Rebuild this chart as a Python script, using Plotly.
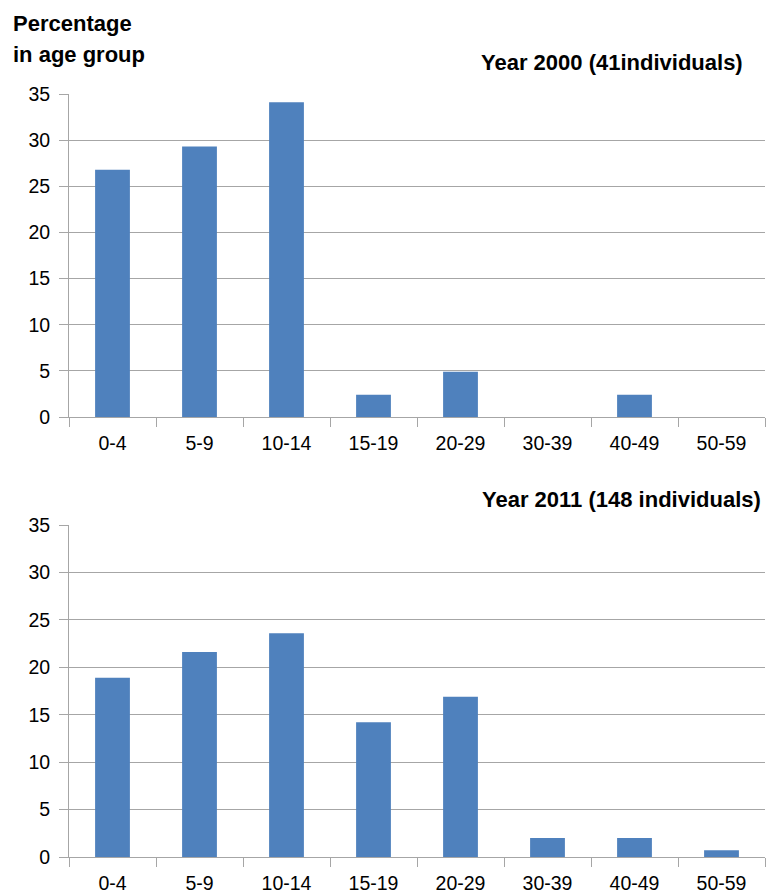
import plotly.graph_objects as go
from plotly.subplots import make_subplots

categories = ["0-4", "5-9", "10-14", "15-19", "20-29", "30-39", "40-49", "50-59"]
pct_2000 = [26.8, 29.3, 34.1, 2.4, 4.9, 0, 2.4, 0]
pct_2011 = [18.9, 21.6, 23.6, 14.2, 16.9, 2.0, 2.0, 0.7]
y_ticks = [0, 5, 10, 15, 20, 25, 30, 35]

BAR = "#4F81BD"
GRID = "#a6a6a6"
FONT = "Liberation Sans, Arial, sans-serif"

W, H = 766.0, 895.0
L, R = 69, 1
PW = W - L - R

fig = make_subplots(rows=2, cols=1)
fig.add_trace(go.Bar(x=categories, y=pct_2000, marker=dict(color=BAR, line=dict(width=0)),
                     width=0.4, showlegend=False, hoverinfo="skip"), row=1, col=1)
fig.add_trace(go.Bar(x=categories, y=pct_2011, marker=dict(color=BAR, line=dict(width=0)),
                     width=0.4, showlegend=False, hoverinfo="skip"), row=2, col=1)


def dom(top_px, bot_px):
    return [(H - bot_px) / H, (H - top_px) / H]


ax_common = dict(showline=True, linecolor=GRID, linewidth=1, ticks="outside", tickcolor=GRID,
                 ticklen=9, tickson="boundaries", showgrid=False, automargin=False,
                 tickfont=dict(family=FONT, size=19.5, color="#000"),
                 ticklabelstandoff=9)
ay_common = dict(range=[0, 35], tickvals=y_ticks, showline=True, linecolor=GRID, linewidth=1,
                 ticks="outside", tickcolor=GRID, ticklen=9, showgrid=True, gridcolor=GRID,
                 gridwidth=1, zeroline=False, automargin=False,
                 tickfont=dict(family=FONT, size=19.5, color="#000"),
                 ticklabelstandoff=5)

fig.update_layout(
    width=W, height=H,
    margin=dict(l=L, r=R, t=0, b=0, pad=0),
    plot_bgcolor="white", paper_bgcolor="white",
    xaxis=dict(domain=[0, 1], **ax_common),
    xaxis2=dict(domain=[0, 1], **ax_common),
    yaxis=dict(domain=dom(94, 417), **ay_common),
    yaxis2=dict(domain=dom(525, 857), **ay_common),
    font=dict(family=FONT),
    bargap=0.6,
)


def px_x(x):
    return (x - L) / PW


def px_y(y):
    return (H - y) / H


TF = dict(family=FONT, size=22, color="#000")
fig.add_annotation(text="<b>Percentage</b>", xref="paper", yref="paper", x=px_x(11), y=px_y(24),
                   xanchor="left", yanchor="middle", showarrow=False, font=TF)
fig.add_annotation(text="<b>in age group</b>", xref="paper", yref="paper", x=px_x(11), y=px_y(55),
                   xanchor="left", yanchor="middle", showarrow=False, font=TF)
fig.add_annotation(text="<b>Year 2000 (41individuals)</b>", xref="paper", yref="paper",
                   x=px_x(745), y=px_y(62), xanchor="right", yanchor="middle",
                   showarrow=False, font=TF)
fig.add_annotation(text="<b>Year 2011 (148 individuals)</b>", xref="paper", yref="paper",
                   x=px_x(763), y=px_y(499), xanchor="right", yanchor="middle",
                   showarrow=False, font=TF)

fig.write_html("out.html", config={"displayModeBar": False},
               post_script="document.body.style.margin='0';")
